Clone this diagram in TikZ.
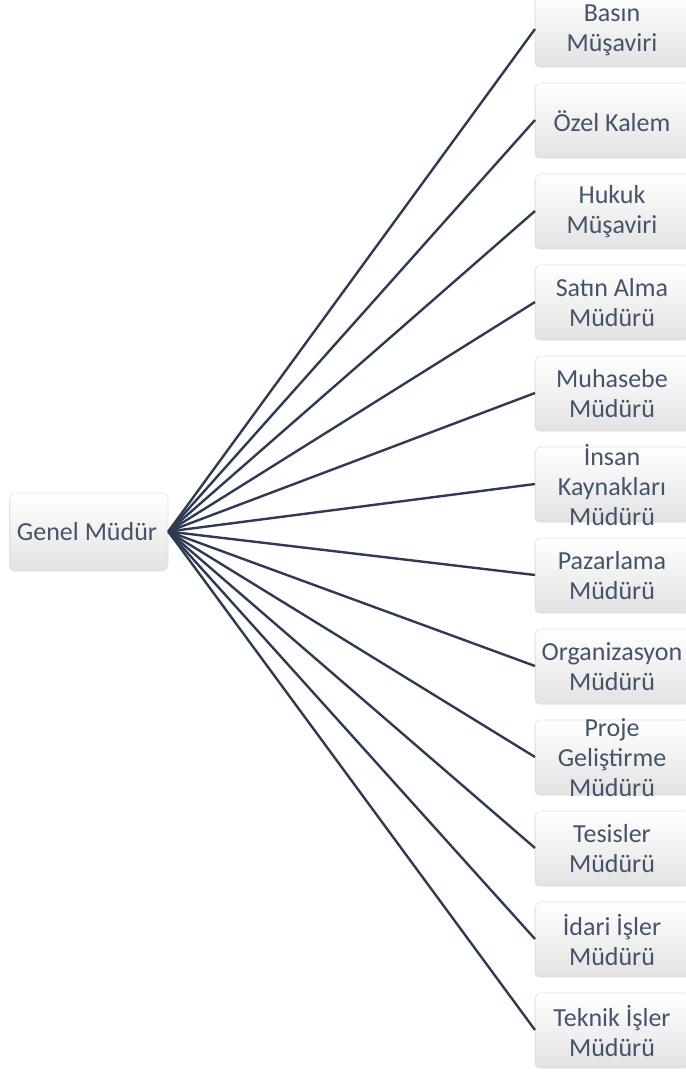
\documentclass[tikz,border=0pt]{standalone}
\usepackage{fontspec}
\setmainfont{Carlito}
\usetikzlibrary{shadows}
\definecolor{txt}{HTML}{44546A}
\definecolor{ln}{HTML}{2E3B52}
\begin{document}
\begin{tikzpicture}[x=1pt,y=-1pt,
  box/.style={rectangle, rounded corners=5pt, draw=black!12, line width=0.6pt,
    top color=white, bottom color=black!11, inner sep=0pt,
    drop shadow={shadow xshift=-0.8pt, shadow yshift=-1.6pt, opacity=0.22}},
  lbl/.style={text=txt, align=center, font=\fontsize{26}{30}\selectfont, inner sep=0pt},
  conn/.style={draw=ln, line width=2.4pt}]
\useasboundingbox (0,0) rectangle (686,1072);
\node[box, minimum width=158pt, minimum height=77pt] (gm) at (89,531.5) {};
\node[lbl] (gmt) at (87,532) {Genel Müdür};
\foreach \i/\t in {0/{Basın\\Müşaviri}, 1/{Özel Kalem}, 2/{Hukuk\\Müşaviri},
  3/{Satın Alma\\Müdürü}, 4/{Muhasebe\\Müdürü}, 5/{İnsan\\Kaynakları\\Müdürü},
  6/{Pazarlama\\Müdürü}, 7/{Organizasyon\\Müdürü}, 8/{Proje\\Geliştirme\\Müdürü},
  9/{Tesisler\\Müdürü}, 10/{İdari İşler\\Müdürü}, 11/{Teknik İşler\\Müdürü}} {
  \node[box, minimum width=155pt, minimum height=74pt, anchor=west] (b\i) at (535,{29+91*\i}) {};
  \node[lbl] (t\i) at (612,{30+91*\i}) {\t};
  \draw[conn] (gm.east) -- (b\i.west);
}
\end{tikzpicture}
\end{document}
